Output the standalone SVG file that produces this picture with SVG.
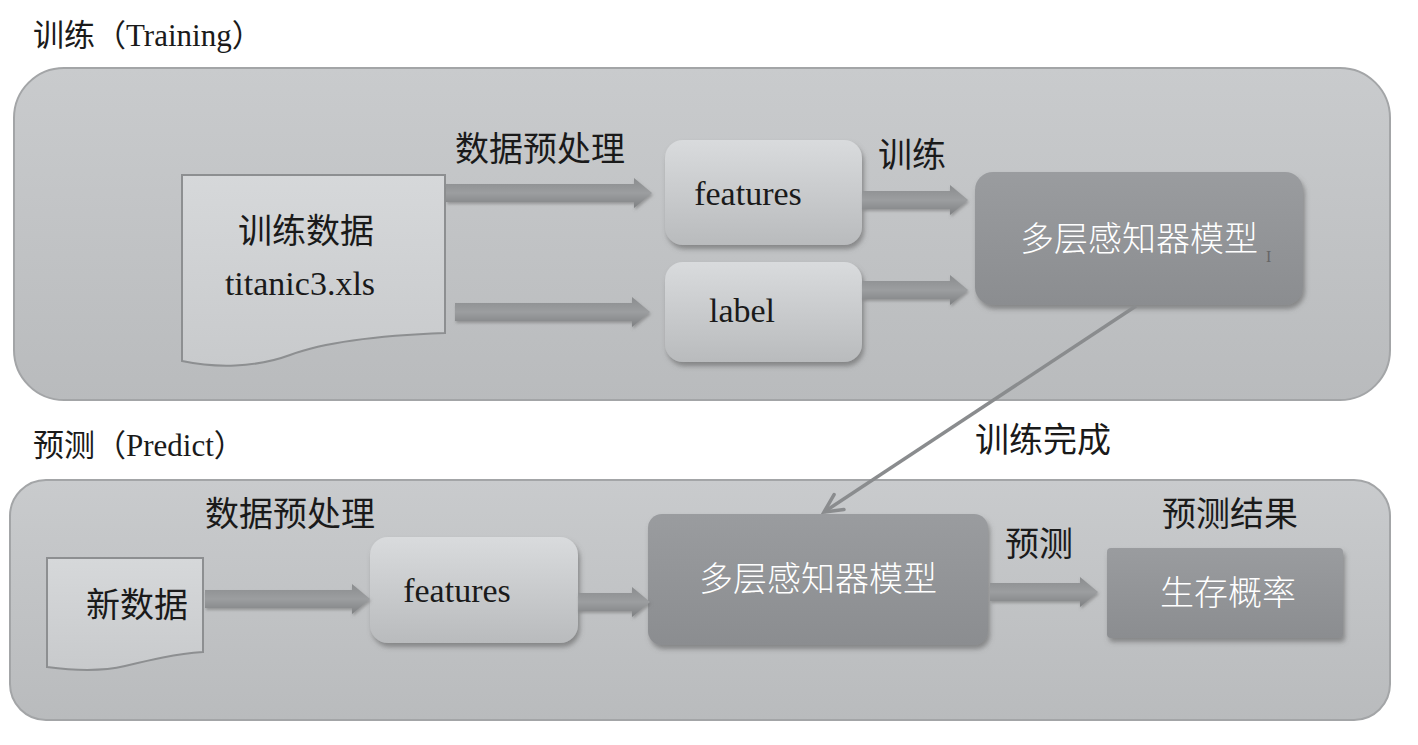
<svg xmlns="http://www.w3.org/2000/svg" width="1418" height="745" viewBox="0 0 1418 745">
<style>
.t{font-family:"Liberation Serif","Noto Sans CJK SC",serif;font-size:34px;fill:#1a1a1a}
.w{font-family:"Liberation Serif","Noto Sans CJK SC",serif;font-size:34px;fill:#ffffff;font-weight:300}
.h{font-family:"Liberation Serif","Noto Sans CJK SC",serif;font-size:31px;fill:#1a1a1a}
.panel{fill:url(#gPanel);stroke:#a3a5a7;stroke-width:2}
.doc{fill:url(#gDoc);stroke:#8d8f91;stroke-width:2}
.box{fill:url(#gBox);filter:url(#sh)}
.model{fill:url(#gModel);filter:url(#sh)}
.arr{fill:url(#gArr);filter:url(#shA)}
</style>
<defs>
<linearGradient id="gPanel" x1="0" y1="0" x2="0" y2="1"><stop offset="0" stop-color="#c9cbcd"/><stop offset="1" stop-color="#b9bbbd"/></linearGradient>
<linearGradient id="gDoc" x1="0" y1="0" x2="0" y2="1"><stop offset="0" stop-color="#d6d8da"/><stop offset="1" stop-color="#c8cacc"/></linearGradient>
<linearGradient id="gBox" x1="0" y1="0" x2="0" y2="1"><stop offset="0" stop-color="#d9dbdd"/><stop offset="0.5" stop-color="#c9cbcd"/><stop offset="1" stop-color="#b9bbbd"/></linearGradient>
<linearGradient id="gModel" x1="0" y1="0" x2="0" y2="1"><stop offset="0" stop-color="#9a9c9f"/><stop offset="1" stop-color="#8b8d90"/></linearGradient>
<linearGradient id="gArr" x1="0" y1="0" x2="0" y2="1"><stop offset="0" stop-color="#8a8c8e"/><stop offset="0.5" stop-color="#9c9ea0"/><stop offset="1" stop-color="#7e8082"/></linearGradient>
<filter id="sh" x="-10%" y="-10%" width="125%" height="130%"><feDropShadow dx="2" dy="4" stdDeviation="2.5" flood-color="#555" flood-opacity="0.55"/></filter>
<filter id="shA" x="-10%" y="-30%" width="120%" height="170%"><feDropShadow dx="1" dy="2" stdDeviation="1.5" flood-color="#666" flood-opacity="0.5"/></filter>
<marker id="mV" viewBox="0 0 24 24" refX="21" refY="12" markerWidth="24" markerHeight="24" orient="auto" markerUnits="userSpaceOnUse"><path d="M3,3 L21,12 L3,21" fill="none" stroke="#8a8c8e" stroke-width="3.5" stroke-linecap="round"/></marker>
</defs>
<rect width="1418" height="745" fill="#ffffff"/>

<g id="panel-training">
<rect class="panel" x="14" y="68" width="1376" height="332" rx="50"/>
<text class="h" x="33" y="46">训练（Training）</text>
</g>
<g id="panel-predict">
<rect class="panel" x="10" y="480" width="1380" height="240" rx="36"/>
<text class="h" x="33" y="456">预测（Predict）</text>
</g>

<g id="doc-train">
<path class="doc" d="M182,175 H445 V333 C390,335 330,340 290,355 C255,368 215,368 182,361 Z"/>
<text class="t" x="306" y="243" text-anchor="middle">训练数据</text>
<text class="t" x="300" y="295" text-anchor="middle">titanic3.xls</text>
</g>
<g id="features-train">
<rect class="box" x="665" y="140" width="197" height="105" rx="18"/>
<text class="t" x="748" y="205" text-anchor="middle">features</text>
</g>
<g id="label-train">
<rect class="box" x="665" y="262" width="197" height="100" rx="18"/>
<text class="t" x="742" y="322" text-anchor="middle">label</text>
</g>
<g id="model-train">
<rect class="model" x="975" y="172" width="328" height="133" rx="18"/>
<text class="w" x="1139" y="251" text-anchor="middle">多层感知器模型</text>
<text x="1266" y="262" font-family="Liberation Serif,serif" font-size="16" fill="#666">I</text>
</g>

<g id="doc-new">
<path class="doc" d="M47,558 H203 V652 C175,654 150,660 125,666 C100,672 70,670 47,667 Z"/>
<text class="t" x="137" y="617" text-anchor="middle">新数据</text>
</g>
<g id="features-new">
<rect class="box" x="370" y="537" width="208" height="106" rx="18"/>
<text class="t" x="457" y="602" text-anchor="middle">features</text>
</g>
<g id="model-new">
<rect class="model" x="648" y="514" width="340" height="131" rx="14"/>
<text class="w" x="818" y="591" text-anchor="middle">多层感知器模型</text>
</g>
<g id="result">
<rect class="model" x="1107" y="548" width="236" height="90" rx="4"/>
<text class="w" x="1228" y="605" text-anchor="middle">生存概率</text>
</g>

<g id="connectors">
<path class="arr" d="M446,184 H634 V178 L652,193 L634,208 V202 H446 Z"/>
<text class="t" x="455" y="161">数据预处理</text>
<path class="arr" d="M455,303 H632 V297 L650,312 L632,327 V321 H455 Z"/>
<path class="arr" d="M862,191 H950 V185 L968,200 L950,215 V209 H862 Z"/>
<text class="t" x="878" y="167">训练</text>
<path class="arr" d="M862,281 H950 V275 L968,290 L950,305 V299 H862 Z"/>
<path d="M1136,306 L824,512" stroke="#8a8c8e" stroke-width="3.5" fill="none" marker-end="url(#mV)"/>
<text class="t" x="975" y="452">训练完成</text>
<path class="arr" d="M205,590 H352 V584 L370,599 L352,614 V608 H205 Z"/>
<text class="t" x="205" y="526">数据预处理</text>
<path class="arr" d="M578,593 H632 V587 L650,602 L632,617 V611 H578 Z"/>
<path class="arr" d="M990,583 H1080 V577 L1098,592 L1080,607 V601 H990 Z"/>
<text class="t" x="1005" y="556">预测</text>
<text class="t" x="1162" y="526">预测结果</text>
</g>
</svg>
